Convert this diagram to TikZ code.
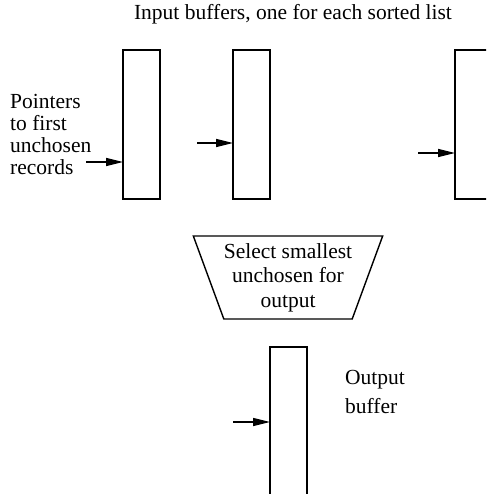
\documentclass[tikz,border=0pt]{standalone}
\usepackage{fontspec}
\setmainfont{Liberation Serif}
\usetikzlibrary{positioning,arrows.meta,shapes.geometric}

\begin{document}
\begin{tikzpicture}[
  x=1pt,y=-1pt,
  font=\fontsize{21.5}{22}\selectfont,
  buf/.style={draw,line width=1.4pt,minimum width=37pt,minimum height=149pt,inner sep=0pt,outer sep=0pt},
  sel/.style={draw,line width=1.4pt,trapezium,shape border rotate=180,trapezium angle=66,trapezium stretches body,
    minimum width=186pt,minimum height=83pt,inner sep=0pt,align=center,font=\fontsize{21.5}{24.5}\selectfont},
  lbl/.style={anchor=west,align=left,inner sep=0pt},
  ptr/.style={-{Triangle[length=17pt,width=8pt]},line width=1.3pt}
]
\useasboundingbox (0,0) rectangle (486,494);
\clip (0,0) rectangle (486,494);
% input buffers
\node[buf] (in1) at (141.5,124.5) {};
\node[buf,right=73pt of in1] (in2) {};
\node[buf,right=185pt of in2,minimum width=60pt] (in3) {};
\node (title) at (293,14) {Input buffers, one for each sorted list};
\node[lbl] (ptrs) at (10,134) {Pointers\\to first\\unchosen\\records};
% pointers
\coordinate (t1) at (86,162);
\coordinate (t2) at (197,143);
\coordinate (t3) at (418,153);
\draw[ptr] (t1) -- (t1 -| in1.west);
\draw[ptr] (t2) -- (t2 -| in2.west);
\draw[ptr] (t3) -- (t3 -| in3.west);
% selection and output
\node[sel] (sel) at (288,277.5) {Select smallest\\unchosen for\\output};
\node[buf] (out) at (288.5,421.5) {};
\coordinate (t4) at (233,422);
\draw[ptr] (t4) -- (t4 -| out.west);
\node[lbl,font=\fontsize{21.5}{29}\selectfont] (outlbl) at (345,392) {Output\\buffer};
\end{tikzpicture}
\end{document}
